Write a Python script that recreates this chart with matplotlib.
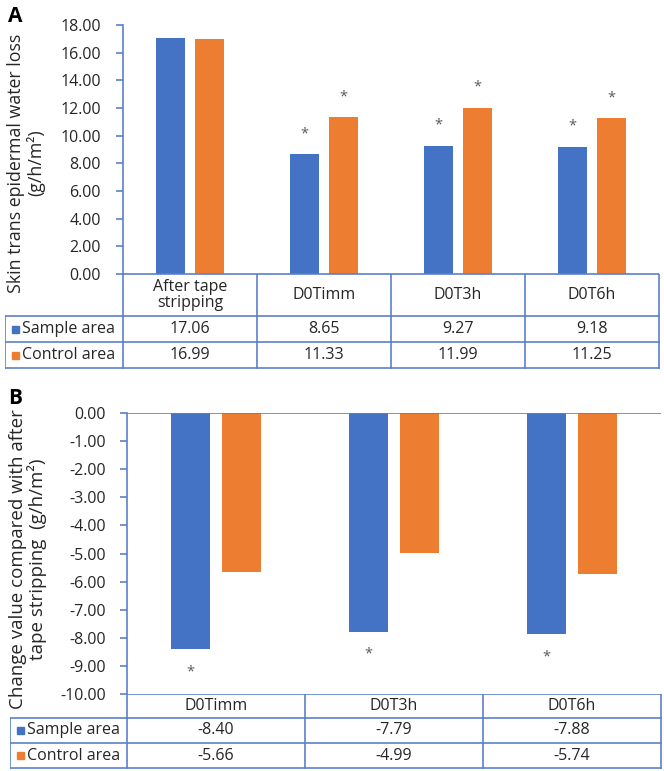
import matplotlib.pyplot as plt
import numpy as np
from matplotlib.patches import Rectangle

plt.rcParams['font.family'] = ['Open Sans', 'DejaVu Sans']

series = ['Sample area', 'Control area']

cats_a = ['After tape\nstripping', 'D0Timm', 'D0T3h', 'D0T6h']
sample_a = [17.06, 8.65, 9.27, 9.18]
control_a = [16.99, 11.33, 11.99, 11.25]
star_sample_a = [False, True, True, True]
star_control_a = [False, True, True, True]

cats_b = ['D0Timm', 'D0T3h', 'D0T6h']
sample_b = [-8.40, -7.79, -7.88]
control_b = [-5.66, -4.99, -5.74]
star_sample_b = [True, True, True]
star_control_b = [False, False, False]

BLUE = '#4472C4'
ORANGE = '#ED7D31'
LINE = '#5B80C8'
TXT = '#262626'
W, H = 664, 771


def rect(x0, y0, x1, y1):
    return [x0 / W, 1 - y1 / H, (x1 - x0) / W, (y1 - y0) / H]


def panel(fig, cats, sample, control, s_star, c_star, box, ylim, step,
          head_h, row_h, tab_left, star_off, pad):
    x0, y0, x1, y1 = box
    ax = fig.add_axes(rect(x0, y0, x1, y1))
    n = len(cats)
    x = np.arange(n)
    w, off = 0.22, 0.145
    ax.bar(x - off, sample, w, color=BLUE)
    ax.bar(x + off, control, w, color=ORANGE)
    for i in range(n):
        if s_star[i]:
            ax.text(x[i] - off, sample[i] + star_off, '*', ha='center', va='center',
                    fontsize=10.5, color='#595959')
        if c_star[i]:
            ax.text(x[i] + off, control[i] + star_off, '*', ha='center', va='center',
                    fontsize=10.5, color='#595959')
    ax.set_xlim(-0.5, n - 0.5)
    ax.set_ylim(*ylim)
    ax.set_yticks(np.arange(ylim[0], ylim[1] + step / 2, step))
    ax.yaxis.set_major_formatter(lambda v, p: f'{v:.2f}')
    ax.set_xticks([])
    for s in ['top', 'right', 'bottom']:
        ax.spines[s].set_visible(False)
    ax.spines['left'].set_color(LINE)
    ax.spines['left'].set_linewidth(1.2)
    ax.axhline(0, color=LINE, lw=1.2)
    ax.tick_params(axis='y', colors=LINE, length=5, width=1.2, labelsize=11.5,
                   labelcolor=TXT, pad=pad)

    # data table under the plot
    tb = y1 + head_h + 2 * row_h
    tab = fig.add_axes(rect(tab_left, y1, x1 + 1, tb + 1))
    tab.set_xlim(tab_left, x1 + 1)
    tab.set_ylim(tb + 1, y1)
    tab.axis('off')
    colw = (x1 - x0) / n
    kw = dict(color=LINE, lw=1.2, solid_capstyle='projecting')
    rows = [y1, y1 + head_h, y1 + head_h + row_h, tb]
    tab.plot([x0, x1], [rows[0], rows[0]], **kw)
    for r in rows[1:]:
        tab.plot([tab_left, x1], [r, r], **kw)
    tab.plot([tab_left, tab_left], [rows[1], tb], **kw)
    for i in range(n + 1):
        xc = x0 + i * colw
        tab.plot([xc, xc], [y1, tb], **kw)
    for i, c in enumerate(cats):
        tab.text(x0 + (i + 0.5) * colw, (rows[0] + rows[1]) / 2, c, ha='center',
                 va='center', fontsize=11.5, color=TXT, linespacing=1.0)
    for k, (vals, col) in enumerate(zip([sample, control], [BLUE, ORANGE])):
        yc = (rows[k + 1] + rows[k + 2]) / 2
        tab.add_patch(Rectangle((tab_left + 7, yc - 3.5), 7, 7, color=col))
        tab.text(tab_left + 17, yc, series[k], ha='left', va='center',
                 fontsize=11.5, color=TXT)
        for i, v in enumerate(vals):
            tab.text(x0 + (i + 0.5) * colw, yc, f'{v:.2f}', ha='center', va='center',
                     fontsize=11.5, color=TXT)
    return ax


fig = plt.figure(figsize=(W / 100, H / 100), dpi=100)

panel(fig, cats_a, sample_a, control_a, star_sample_a, star_control_a,
      (123, 25, 659, 274), (0, 18), 2, 42, 26, 5, 1.5, 11)
panel(fig, cats_b, sample_b, control_b, star_sample_b, star_control_b,
      (127, 413, 661, 694), (-10, 0), 1, 24, 25, 10, -0.8, 10)

fig.text(26 / W, 1 - 163 / H, 'Skin trans epidermal water loss\n(g/h/m\u00b2)',
         rotation=90, ha='center', va='center', multialignment='center',
         fontsize=12.8, color=TXT, linespacing=1.1)
fig.text(28 / W, 1 - 559 / H, 'Change value compared with after\ntape stripping  (g/h/m\u00b2)',
         rotation=90, ha='center', va='center', multialignment='center',
         fontsize=13.5, color=TXT, linespacing=1.05)
fig.text(8 / W, 1 - 16 / H, 'A', fontsize=15, fontweight='bold', va='center')
fig.text(8 / W, 1 - 398 / H, 'B', fontsize=15, fontweight='bold', va='center')

fig.savefig('out.png', dpi=100)
